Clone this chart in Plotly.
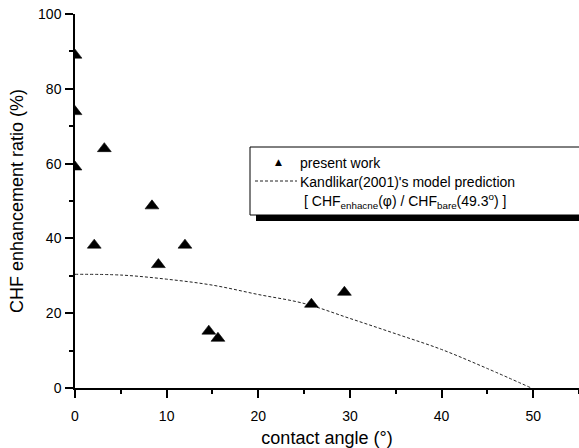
import plotly.graph_objects as go

# data: present work (contact angle in deg, CHF enhancement ratio in %)
exp_angle = [0, 0, 0, 2.1, 3.2, 8.4, 9.1, 12.0, 14.6, 15.6, 25.8, 29.4]
exp_ratio = [89.0, 73.9, 59.1, 38.2, 64.0, 48.7, 33.0, 38.2, 15.2, 13.3, 22.4, 25.6]

# Kandlikar (2001) model prediction
model_angle = [0, 5, 10, 15, 20, 25, 30, 35, 40, 45, 49.8]
model_ratio = [30.4, 30.2, 29.1, 27.5, 25.0, 22.6, 18.6, 14.5, 10.3, 5.2, 0.0]

x_ticks = [0, 10, 20, 30, 40, 50]
y_ticks = [0, 20, 40, 60, 80, 100]

W, H = 579, 448
L, R, T, B = 75, 0, 14, 60
PW, PH = W - L - R, H - T - B

def px(x):
    return (x - L) / PW

def py(y):
    return (H - B - y) / PH

FONT = "Liberation Sans, Arial, sans-serif"

fig = go.Figure()
fig.add_trace(go.Scatter(
    x=model_angle, y=model_ratio, mode="lines",
    line=dict(color="#222222", width=1, dash="3px,2px", shape="spline"),
    showlegend=False, hoverinfo="skip"))
fig.add_trace(go.Scatter(
    x=exp_angle, y=exp_ratio, mode="markers",
    marker=dict(symbol="triangle-up", size=12, color="black",
                line=dict(color="black", width=0.6)),
    showlegend=False))

axis_common = dict(
    showgrid=False, zeroline=False, showline=True, linecolor="black",
    linewidth=1.5, ticks="outside", ticklen=8, tickwidth=1.5, tickcolor="black",
    tickfont=dict(family=FONT, size=14, color="black"),
)

fig.update_xaxes(range=[0, 55], tickvals=x_ticks, **axis_common, ticklabelstandoff=6,
                 minor=dict(ticks="outside", ticklen=4, dtick=5, tickwidth=1.5,
                            tickcolor="black"),
                 title=dict(text="contact angle (°)", font=dict(family=FONT, size=18, color="black"),
                            standoff=10))
fig.update_yaxes(range=[0, 100], tickvals=y_ticks, **axis_common, ticklabelstandoff=1,
                 minor=dict(ticks="outside", ticklen=4, dtick=10, tickwidth=1.5,
                            tickcolor="black"),
                 title=dict(text="CHF enhancement ratio (%)",
                            font=dict(family=FONT, size=18, color="black"), standoff=10))

shapes = [
    # shadow
    dict(type="rect", xref="paper", yref="paper", x0=px(256), x1=px(600),
         y0=py(221), y1=py(214), fillcolor="black", line=dict(width=0), layer="above"),
    # legend box
    dict(type="rect", xref="paper", yref="paper", x0=px(250), x1=px(595),
         y0=py(215), y1=py(147), fillcolor="white", line=dict(color="black", width=1),
         layer="above"),
    # dashed legend sample
    dict(type="line", xref="paper", yref="paper", x0=px(255), x1=px(297),
         y0=py(181), y1=py(181), line=dict(color="#222222", width=1, dash="3px,2px"),
         layer="above"),
]

lf = dict(family=FONT, size=14, color="black")
annotations = [
    dict(xref="paper", yref="paper", x=px(278), y=py(162), text="▲", showarrow=False,
         xanchor="center", yanchor="middle", font=dict(family="DejaVu Sans", size=9, color="black")),
    dict(xref="paper", yref="paper", x=px(298), y=py(162.5), text="present work", showarrow=False,
         xanchor="left", yanchor="middle", font=lf),
    dict(xref="paper", yref="paper", x=px(298), y=py(181.5),
         text="Kandlikar(2001)'s model prediction", showarrow=False,
         xanchor="left", yanchor="middle", font=lf),
    dict(xref="paper", yref="paper", x=px(302), y=py(201),
         text="[ CHF<sub>enhacne</sub>(φ) / CHF<sub>bare</sub>(49.3<sup>o</sup>) ]", showarrow=False,
         xanchor="left", yanchor="middle", font=lf),
]

fig.update_layout(
    width=W, height=H,
    margin=dict(l=L, r=R, t=T, b=B, autoexpand=False),
    paper_bgcolor="white", plot_bgcolor="white",
    shapes=shapes, annotations=annotations,
    font=dict(family=FONT, color="black"),
)

fig.write_html("out.html", config={"displayModeBar": False},
               post_script="document.body.style.margin='0';document.body.style.overflow='hidden';")
